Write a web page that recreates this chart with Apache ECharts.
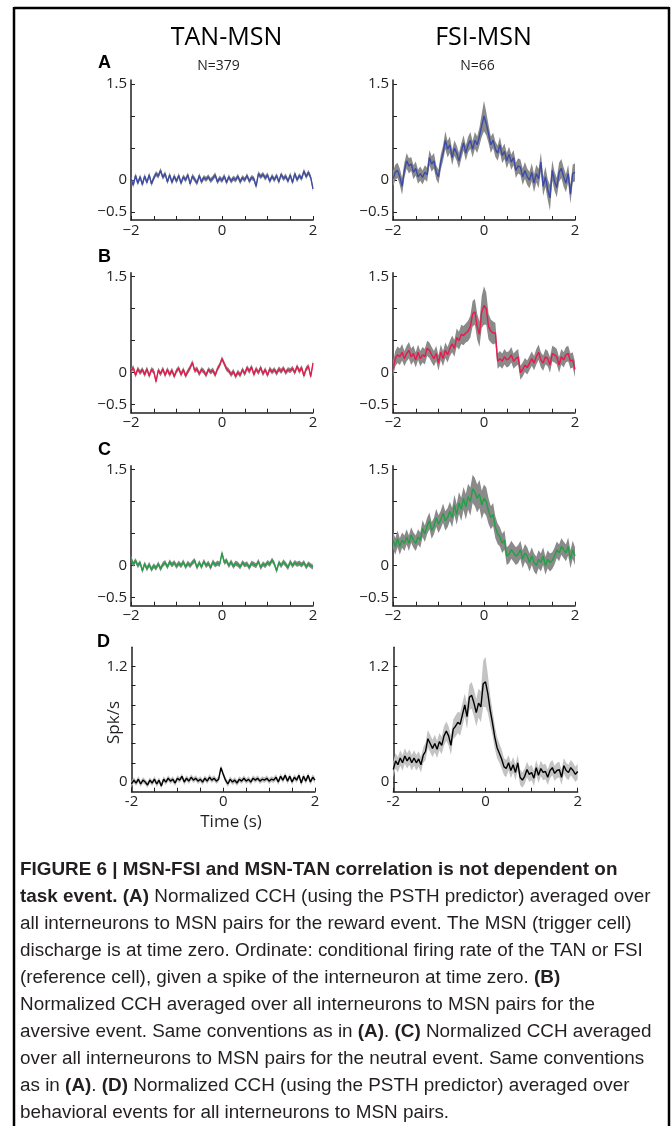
<!DOCTYPE html>
<html><head><meta charset="utf-8">
<script src="https://cdn.jsdelivr.net/npm/echarts@6/dist/echarts.min.js"></script>
<style>html,body{margin:0;padding:0;background:#fff}#c{width:671px;height:1126px}</style>
</head><body><div id="c"></div>
<script>
// ---------- DATA ----------
const TIME = [-2,-1.95,-1.9,-1.85,-1.8,-1.75,-1.7,-1.65,-1.6,-1.55,
 -1.5,-1.45,-1.4,-1.35,-1.3,-1.25,-1.2,-1.15,-1.1,-1.05,
 -1,-0.95,-0.9,-0.85,-0.8,-0.75,-0.7,-0.65,-0.6,-0.55,
 -0.5,-0.45,-0.4,-0.35,-0.3,-0.25,-0.2,-0.15,-0.1,-0.05,
 0,0.05,0.1,0.15,0.2,0.25,0.3,0.35,0.4,0.45,
 0.5,0.55,0.6,0.65,0.7,0.75,0.8,0.85,0.9,0.95,
 1,1.05,1.1,1.15,1.2,1.25,1.3,1.35,1.4,1.45,
 1.5,1.55,1.6,1.65,1.7,1.75,1.8,1.85,1.9,1.95,
 2];

const TAN_A = [0.02,-0.08,0.07,-0.05,0.05,-0.07,0.06,-0.04,0.08,-0.06,
 0.03,0.10,0.06,0.15,0.04,0.10,-0.03,0.08,-0.04,0.06,
 -0.02,0.07,-0.05,0.05,0.00,0.08,-0.06,0.06,0.01,-0.05,
 0.07,-0.03,0.04,0.01,0.05,-0.01,0.03,0.08,-0.03,0.03,
 -0.01,0.06,-0.04,0.05,-0.02,0.03,0.00,0.06,-0.03,0.04,
 0.00,0.07,-0.02,0.04,0.02,-0.10,0.10,0.05,0.09,0.03,
 0.08,-0.02,0.06,0.00,0.07,-0.03,0.09,0.02,0.06,-0.02,
 0.08,-0.04,0.10,0.00,0.07,0.02,0.14,0.05,0.12,0.04,
 -0.14];
const TAN_A_SEM = 0.04;

const FSI_A = [0.02,0.12,0.15,0.05,-0.10,0.15,0.30,0.22,0.25,0.12,
 0.18,0.05,0.10,0.04,0.12,0.08,0.35,0.25,0.30,0.12,
 0.05,0.28,0.42,0.62,0.48,0.55,0.35,0.50,0.42,0.30,
 0.45,0.58,0.42,0.55,0.62,0.48,0.62,0.55,0.68,0.85,
 1.00,0.88,0.72,0.55,0.62,0.48,0.42,0.55,0.38,0.45,
 0.30,0.40,0.28,0.35,0.15,0.22,0.20,0.05,0.15,0.05,
 0.00,0.12,-0.05,0.10,0.02,0.28,-0.10,0.05,-0.15,-0.28,
 0.15,-0.02,-0.12,0.12,0.18,0.05,-0.05,0.10,-0.22,0.10,
 0.12];
const FSI_A_SEM = [0.12,0.12,0.12,0.13,0.13,0.12,0.12,0.12,0.11,0.11,
 0.11,0.11,0.11,0.11,0.11,0.11,0.12,0.12,0.12,0.11,
 0.11,0.12,0.12,0.14,0.13,0.13,0.12,0.12,0.12,0.12,
 0.12,0.12,0.12,0.12,0.13,0.13,0.13,0.13,0.14,0.18,
 0.24,0.18,0.14,0.13,0.12,0.12,0.12,0.12,0.12,0.12,
 0.12,0.12,0.12,0.12,0.12,0.12,0.12,0.13,0.13,0.13,
 0.13,0.14,0.14,0.14,0.15,0.15,0.15,0.16,0.16,0.20,
 0.16,0.15,0.15,0.15,0.15,0.15,0.14,0.14,0.15,0.14,
 0.14];

const TAN_B = [0.03,0.08,-0.04,0.06,0.00,0.05,-0.03,0.06,-0.05,0.05,
 0.02,-0.14,0.04,-0.02,0.06,-0.04,0.05,-0.03,0.04,-0.06,
 0.03,0.07,-0.03,0.05,-0.05,0.02,0.08,0.16,0.03,0.06,
 -0.02,0.05,0.02,-0.04,0.05,0.01,0.04,-0.04,0.06,0.12,
 0.22,0.14,0.06,0.03,-0.03,0.02,-0.06,0.01,-0.04,0.05,
 -0.02,0.08,0.02,0.09,-0.03,0.06,0.00,0.08,-0.02,0.05,
 -0.04,0.06,0.01,0.05,-0.01,0.06,0.02,0.07,0.00,0.05,
 0.03,0.07,0.00,0.10,0.02,0.08,-0.05,0.06,0.10,-0.06,
 0.15];
const TAN_B_SEM = 0.04;

const FSI_B = [0.05,0.22,0.28,0.25,0.32,0.22,0.30,0.35,0.25,0.30,
 0.20,0.32,0.22,0.28,0.25,0.38,0.35,0.28,0.22,0.30,
 0.15,0.32,0.22,0.35,0.28,0.38,0.45,0.38,0.55,0.50,
 0.60,0.58,0.62,0.65,0.72,0.92,0.95,0.72,0.60,0.95,
 1.05,1.00,0.72,0.65,0.62,0.62,0.18,0.22,0.18,0.25,
 0.20,0.22,0.28,0.18,0.22,0.25,0.00,0.05,0.12,0.08,
 0.15,0.22,0.15,0.25,0.32,0.20,0.15,0.25,0.22,0.12,
 0.30,0.28,0.25,0.12,0.25,0.20,0.28,0.30,0.18,0.20,
 0.05];
const FSI_B_SEM = [0.12,0.12,0.13,0.13,0.13,0.12,0.12,0.13,0.13,0.12,
 0.12,0.12,0.12,0.12,0.12,0.12,0.12,0.12,0.12,0.12,
 0.12,0.12,0.12,0.12,0.12,0.12,0.13,0.13,0.14,0.14,
 0.15,0.15,0.15,0.16,0.17,0.20,0.20,0.20,0.20,0.25,
 0.30,0.25,0.20,0.18,0.18,0.16,0.12,0.12,0.12,0.12,
 0.12,0.12,0.12,0.12,0.12,0.12,0.11,0.11,0.11,0.11,
 0.11,0.11,0.11,0.12,0.12,0.12,0.12,0.12,0.12,0.12,
 0.12,0.12,0.12,0.12,0.12,0.12,0.12,0.12,0.12,0.12,
 0.12];

const TAN_C = [0.12,0.02,0.08,0.00,0.05,-0.08,0.03,-0.05,0.02,-0.06,
 0.00,-0.04,0.03,-0.05,0.02,0.05,-0.02,0.06,0.01,0.05,
 -0.01,0.04,0.00,0.06,-0.02,0.04,0.00,0.05,0.08,-0.03,
 0.05,-0.02,0.07,0.00,0.04,-0.03,0.06,0.01,0.04,0.02,
 0.20,0.05,0.08,0.00,0.06,-0.01,0.04,0.02,-0.02,0.05,
 0.01,0.03,-0.03,0.04,0.02,0.00,0.07,-0.03,0.03,0.00,
 0.05,0.02,0.09,0.03,-0.08,0.05,0.00,0.06,0.02,-0.03,
 0.06,0.00,0.05,0.02,0.04,0.01,0.05,-0.02,0.03,0.00,
 -0.02];
const TAN_C_SEM = 0.04;

const FSI_C = [0.40,0.30,0.42,0.30,0.40,0.35,0.45,0.35,0.48,0.40,
 0.35,0.45,0.40,0.58,0.50,0.62,0.70,0.55,0.62,0.75,
 0.65,0.72,0.82,0.70,0.75,0.85,0.75,0.95,0.80,0.98,
 0.88,1.05,0.92,1.08,1.00,1.20,1.15,1.05,1.12,0.95,
 1.05,1.00,0.85,0.75,0.80,0.60,0.50,0.45,0.35,0.40,
 0.15,0.18,0.25,0.20,0.15,0.18,0.25,0.10,0.20,0.15,
 0.05,0.15,0.05,0.00,0.10,0.05,0.15,0.00,0.10,0.05,
 0.08,0.15,0.25,0.20,0.30,0.25,0.20,0.30,0.10,0.25,
 0.15];
const FSI_C_SEM = [0.13,0.13,0.13,0.13,0.12,0.12,0.12,0.12,0.12,0.12,
 0.12,0.12,0.12,0.13,0.13,0.13,0.13,0.13,0.13,0.14,
 0.14,0.14,0.15,0.15,0.15,0.15,0.15,0.16,0.16,0.17,
 0.18,0.18,0.20,0.20,0.22,0.22,0.22,0.22,0.22,0.22,
 0.22,0.22,0.20,0.18,0.18,0.17,0.16,0.15,0.15,0.15,
 0.14,0.14,0.14,0.14,0.14,0.14,0.14,0.14,0.14,0.14,
 0.14,0.14,0.14,0.14,0.14,0.14,0.14,0.14,0.14,0.14,
 0.13,0.13,0.13,0.13,0.13,0.13,0.13,0.14,0.14,0.14,
 0.14];

const TAN_D = [-0.02,0.02,-0.01,0.03,-0.02,0.02,0.00,-0.03,0.02,-0.01,
 0.03,-0.02,0.02,-0.04,0.03,0.00,0.04,0.01,0.03,-0.01,
 0.04,0.02,0.06,0.00,0.04,0.01,0.05,0.02,0.04,0.01,
 0.03,0.00,0.04,0.01,0.05,0.02,0.04,0.01,0.03,0.15,
 0.08,0.02,-0.02,0.03,0.00,0.02,-0.01,0.03,0.01,0.04,
 0.01,0.03,0.00,0.04,0.02,0.04,0.01,0.03,0.02,0.04,
 0.01,0.03,0.02,0.05,0.00,0.06,0.02,0.07,0.01,0.06,
 0.00,0.05,0.02,0.07,-0.01,0.06,0.01,0.07,0.00,0.05,
 0.02];
const TAN_D_SEM = 0.03;

const FSI_D = [0.13,0.22,0.18,0.25,0.20,0.27,0.22,0.26,0.20,0.25,
 0.20,0.24,0.18,0.28,0.32,0.45,0.40,0.35,0.40,0.34,
 0.42,0.38,0.48,0.53,0.48,0.38,0.55,0.58,0.62,0.60,
 0.70,0.80,0.68,0.88,0.90,0.82,0.72,0.82,0.78,1.02,
 1.04,0.92,0.75,0.62,0.47,0.36,0.30,0.24,0.16,0.14,
 0.20,0.12,0.18,0.10,0.20,0.05,0.02,0.06,0.13,0.08,
 0.10,0.04,0.15,0.07,0.14,0.10,0.11,0.05,0.12,0.15,
 0.09,0.12,0.13,0.05,0.17,0.12,0.10,0.15,0.12,0.08,
 0.11];
const FSI_D_SEM = [0.08,0.08,0.08,0.08,0.08,0.08,0.08,0.08,0.08,0.08,
 0.08,0.08,0.08,0.08,0.09,0.09,0.09,0.09,0.09,0.09,
 0.09,0.09,0.10,0.10,0.10,0.10,0.10,0.11,0.11,0.12,
 0.12,0.12,0.13,0.13,0.14,0.14,0.14,0.15,0.16,0.24,
 0.26,0.20,0.15,0.13,0.12,0.11,0.10,0.10,0.09,0.09,
 0.08,0.08,0.08,0.08,0.08,0.08,0.08,0.08,0.08,0.08,
 0.08,0.08,0.08,0.08,0.08,0.08,0.08,0.08,0.08,0.08,
 0.08,0.08,0.08,0.08,0.08,0.08,0.08,0.08,0.08,0.08,
 0.08];

// tick values and labels
const X_TICKS = [-2,-1.5,-1,-0.5,0,0.5,1,1.5,2];
const X_LABELS = [-2,0,2];
const Y_TICKS_ABC = [-0.5,0,0.5,1,1.5];
const Y_LABELS_ABC = [-0.5,0,1.5];
const Y_TICKS_D = [0,0.2,0.4,0.6,0.8,1,1.2];
const Y_LABELS_D = [0,1.2];

const COLUMN_TITLES = ['TAN-MSN','FSI-MSN'];
const COLUMN_N = ['N=379','N=66'];
const PANEL_LETTERS = ['A','B','C','D'];
const CAPTION = [
 '{b|FIGURE 6 | MSN-FSI and MSN-TAN correlation is not dependent on}',
 '{b|task event. (A)} Normalized CCH (using the PSTH predictor) averaged over',
 'all interneurons to MSN pairs for the reward event. The MSN (trigger cell)',
 'discharge is at time zero. Ordinate: conditional firing rate of the TAN or FSI',
 '(reference cell), given a spike of the interneuron at time zero. {b|(B)}',
 'Normalized CCH averaged over all interneurons to MSN pairs for the',
 'aversive event. Same conventions as in {b|(A)}. {b|(C)} Normalized CCH averaged',
 'over all interneurons to MSN pairs for the neutral event. Same conventions',
 'as in {b|(A)}. {b|(D)} Normalized CCH (using the PSTH predictor) averaged over',
 'behavioral events for all interneurons to MSN pairs.'
];

// ---------- STYLE / LAYOUT ----------
const FONT = "'Open Sans', 'Noto Sans', sans-serif";
const CAP_FONT = "'Liberation Sans', Arial, sans-serif";
const INK = '#231f20';
const BLUE = '#3c4ba6', RED = '#e8194c', GREEN = '#22a046', BLACK = '#000000';
const BAND_DARK = '#8a8a8a', BAND_LIGHT = '#c3c3c3';

const PANELS = [
 {mean:TAN_A, sem:TAN_A_SEM, color:BLUE,  band:BAND_DARK,  box:[131,80,182,140],       kind:'abc'},
 {mean:FSI_A, sem:FSI_A_SEM, color:BLUE,  band:BAND_DARK,  box:[393,80,182,140],       kind:'abc'},
 {mean:TAN_B, sem:TAN_B_SEM, color:RED,   band:BAND_DARK,  box:[131,272.7,182,140],    kind:'abc'},
 {mean:FSI_B, sem:FSI_B_SEM, color:RED,   band:BAND_DARK,  box:[393,272.7,182,140],    kind:'abc'},
 {mean:TAN_C, sem:TAN_C_SEM, color:GREEN, band:BAND_DARK,  box:[131,465.7,182,140],    kind:'abc'},
 {mean:FSI_C, sem:FSI_C_SEM, color:GREEN, band:BAND_DARK,  box:[393,465.7,182,140],    kind:'abc'},
 {mean:TAN_D, sem:TAN_D_SEM, color:BLACK, band:BAND_LIGHT, box:[131.5,647.2,183.5,144.5], kind:'d'},
 {mean:FSI_D, sem:FSI_D_SEM, color:BLACK, band:BAND_LIGHT, box:[393.3,647.2,184.4,144.5], kind:'d'}
];

const semAt = (s,k) => Array.isArray(s) ? s[k] : s;
const minusFmt = v => (v < 0 ? '\u2212' + (-v) : String(v));
const axisLineStyle = {color: INK, width: 1.5};

const grid = [], xAxis = [], yAxis = [], series = [];
PANELS.forEach((p, i) => {
  const [l, t, w, h] = p.box;
  grid.push({left: l, top: t, width: w, height: h, containLabel: false});
  const isD = p.kind === 'd';
  xAxis.push({
    gridIndex: i, type: 'value', min: -2, max: 2,
    axisLine: {onZero: false, lineStyle: axisLineStyle},
    axisTick: {show: true, inside: true, length: 4, customValues: X_TICKS, lineStyle: {color: INK, width: 1}},
    axisLabel: {customValues: X_LABELS, formatter: isD ? (v => String(v)) : minusFmt,
      fontSize: 15, color: INK, margin: 3, fontFamily: FONT},
    splitLine: {show: false}
  });
  yAxis.push({
    gridIndex: i, type: 'value',
    min: isD ? -0.1 : -0.625, max: isD ? 1.4 : 1.5625,
    axisLine: {show: true, onZero: false, lineStyle: axisLineStyle},
    axisTick: {show: true, inside: true, length: 4, customValues: isD ? Y_TICKS_D : Y_TICKS_ABC, lineStyle: {color: INK, width: 1}},
    axisLabel: {customValues: isD ? Y_LABELS_D : Y_LABELS_ABC, formatter: isD ? (v => String(v)) : minusFmt,
      fontSize: 15, color: INK, margin: 4, fontFamily: FONT},
    splitLine: {show: false}
  });
  const lo = TIME.map((x, k) => p.mean[k] - semAt(p.sem, k));
  const hi = TIME.map((x, k) => p.mean[k] + semAt(p.sem, k));
  // error band: one polygon drawn through the axis scales (api.coord)
  series.push({
    type: 'custom', xAxisIndex: i, yAxisIndex: i, silent: true, animation: false, z: 1,
    data: TIME.map((x, k) => [x, lo[k], hi[k]]),
    encode: {x: 0, y: [1, 2]},
    renderItem: (params, api) => {
      if (params.dataIndex !== 0) return null;
      const pts = [];
      for (let k = 0; k < TIME.length; k++) pts.push(api.coord([TIME[k], hi[k]]));
      for (let k = TIME.length - 1; k >= 0; k--) pts.push(api.coord([TIME[k], lo[k]]));
      return {type: 'polygon', shape: {points: pts}, style: {fill: p.band, stroke: null}};
    }
  });
  series.push({
    type: 'line', xAxisIndex: i, yAxisIndex: i,
    data: TIME.map((x, k) => [x, p.mean[k]]),
    symbol: 'none', lineStyle: {color: p.color, width: 1.4}, silent: true, animation: false, z: 3
  });
});

// caption font fitted so that line 8 spans ~x 20 -> 645
const cv = document.createElement('canvas').getContext('2d');
cv.font = '17px ' + CAP_FONT;
const capSize = Math.max(14, Math.min(19, 17 * 625 / cv.measureText(CAPTION[7]).width));

const txt = (x, y, text, size, opts = {}) => ({
  type: 'text', x, y, silent: true, rotation: opts.rotation || 0,
  style: Object.assign({text, fontSize: size, fontFamily: opts.family || FONT,
    fontWeight: opts.weight || 'normal', fill: opts.fill || INK,
    align: opts.align || 'center', verticalAlign: 'middle',
    textAlign: opts.align || 'center', textVerticalAlign: 'middle'}, opts.extra || {})
});

const graphic = [
  {type: 'line', silent: true, shape: {x1: 14, y1: 8, x2: 669, y2: 8}, style: {stroke: '#000', lineWidth: 2.5}},
  {type: 'line', silent: true, shape: {x1: 14, y1: 7, x2: 14, y2: 1130}, style: {stroke: '#000', lineWidth: 2.5}},
  {type: 'line', silent: true, shape: {x1: 669, y1: 7, x2: 669, y2: 1130}, style: {stroke: '#000', lineWidth: 2.5}},
  txt(226.5, 37.5, COLUMN_TITLES[0], 25, {fill: '#000'}),
  txt(483.5, 37.5, COLUMN_TITLES[1], 25, {fill: '#000'}),
  txt(218.5, 65.7, COLUMN_N[0], 14),
  txt(477.5, 65.7, COLUMN_N[1], 14),
  txt(98, 63.5, PANEL_LETTERS[0], 18, {align: 'left', weight: 'bold', family: CAP_FONT, fill: '#000'}),
  txt(98, 257.2, PANEL_LETTERS[1], 18, {align: 'left', weight: 'bold', family: CAP_FONT, fill: '#000'}),
  txt(98, 450.5, PANEL_LETTERS[2], 18, {align: 'left', weight: 'bold', family: CAP_FONT, fill: '#000'}),
  txt(97, 641.7, PANEL_LETTERS[3], 18, {align: 'left', weight: 'bold', family: CAP_FONT, fill: '#000'}),
  txt(231, 821.7, 'Time (s)', 17),
  txt(114, 722.5, 'Spk/s', 17, {rotation: Math.PI / 2})
];
CAPTION.forEach((line, k) => {
  graphic.push(txt(20, 870 + k * 27, line, capSize, {align: 'left', family: CAP_FONT,
    extra: {rich: {b: {fontWeight: 'bold', fontSize: capSize, fontFamily: CAP_FONT, fill: INK}}}}));
});

const chart = echarts.init(document.getElementById('c'), null, {renderer: 'canvas', width: 671, height: 1126});
chart.setOption({animation: false, backgroundColor: '#fff', grid, xAxis, yAxis, series, graphic});
</script>
</body></html>
